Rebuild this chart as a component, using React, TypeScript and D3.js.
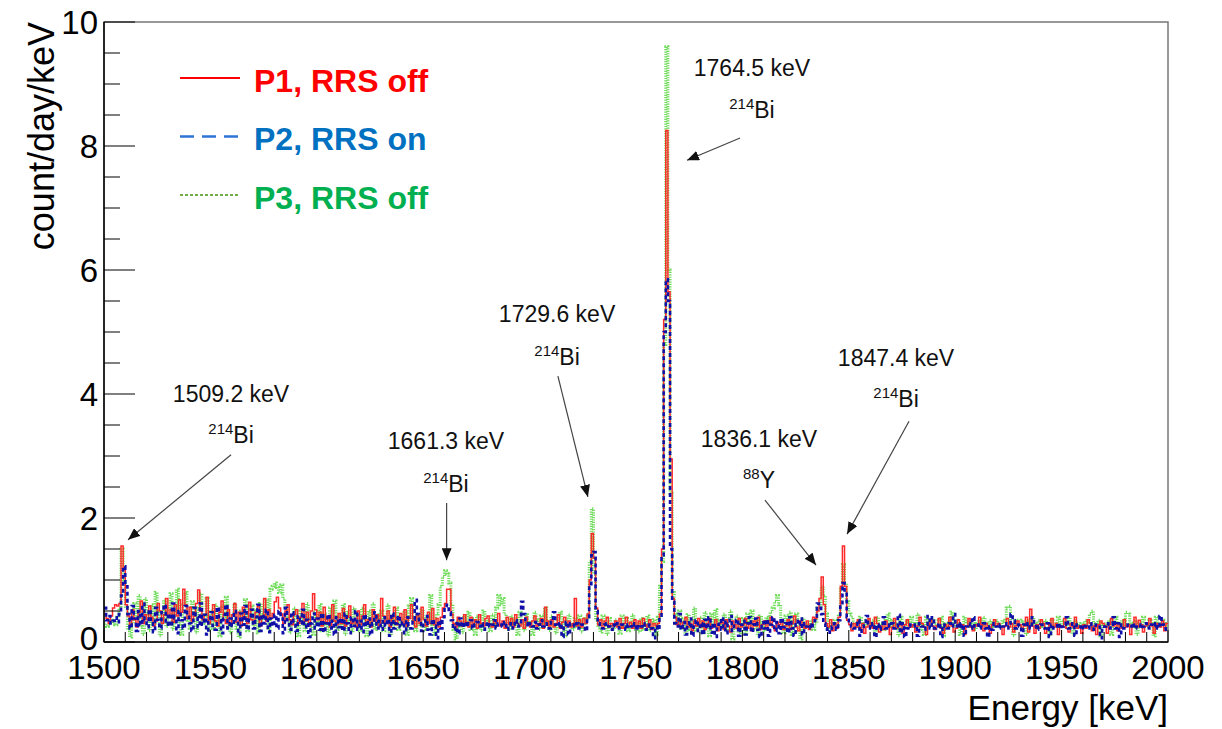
import React from "react";
import * as d3 from "d3";

// ---- data: 1 keV bins from 1500 keV, values in units of 0.01 count/day/keV ----
const BIN_START = 1500;
const BIN_WIDTH = 1;
const VALUE_UNIT = 0.01;

const p1RrsOff = [
  45,38,30,42,55,60,58,62,155,118, 60,42,28,52,36,24,48,66,30,44,
  36,58,40,26,34,62,50,30,44,70, 40,52,32,60,42,68,48,85,60,38,
  56,34,42,62,84,50,36,44,72,30, 38,60,34,26,48,66,36,30,52,28,
  44,62,32,48,26,56,40,30,64,36, 30,48,58,26,42,70,34,52,38,46,
  65,72,55,45,30,50,60,36,28,44, 52,30,40,62,34,48,26,50,78,52,
  36,48,26,56,32,42,24,60,34,28, 46,30,54,26,40,58,30,36,24,50,
  28,42,60,30,36,24,52,34,44,26, 70,42,30,50,24,38,56,28,36,46,
  30,52,26,38,60,34,24,44,30,56, 36,26,48,30,54,28,38,24,40,55,
  62,85,85,45,30,24,40,34,26,44, 32,24,40,28,36,22,44,30,26,38,
  42,28,24,36,30,46,26,34,22,40, 28,38,24,44,30,26,36,22,40,30,
  24,34,42,26,30,38,22,56,34,26, 36,24,30,44,22,32,40,26,34,24,
  30,70,26,36,24,38,30,45,100,175, 135,55,28,36,22,34,40,24,30,26,
  34,24,38,22,30,40,26,32,22,36, 26,34,22,38,28,24,36,20,30,26,
  30,45,150,520,825,565,295,70,40,28, 36,22,32,40,24,30,18,34,26,38,
  24,34,20,30,38,22,28,36,18,30, 32,20,36,26,16,34,28,22,38,24,
  28,38,22,30,18,34,26,40,20,28, 34,22,30,40,24,18,32,28,36,20,
  26,36,20,30,42,24,18,34,28,22, 34,20,28,40,38,50,70,105,60,30,
  24,36,18,30,22,40,90,155,90,35, 28,18,30,24,36,22,30,14,24,38,
  26,22,40,30,16,26,20,34,24,12, 24,38,22,26,30,14,28,36,26,24,
  28,16,26,40,30,24,12,28,36,26, 20,26,38,22,14,28,24,40,26,16,
  22,36,24,28,12,26,38,24,18,28, 26,40,28,18,30,26,14,28,36,26,
  30,24,12,26,38,24,30,16,26,34, 28,20,26,40,16,53,26,14,28,22,
  36,30,14,22,28,38,24,30,12,26, 24,38,22,16,30,24,40,22,26,14,
  28,22,36,30,18,26,12,28,34,30, 26,14,28,38,26,30,18,28,22,36,
  24,28,12,26,40,24,35,28,16,26, 28,38,26,14,30,26,24,34,18,30,
];

const p2RrsOn = [
  55,35,42,30,34,40,32,45,75,122, 90,45,22,58,38,18,50,28,62,35,
  24,52,30,16,55,36,22,48,60,28, 45,26,62,38,14,50,35,22,58,44,
  30,18,55,40,24,62,28,44,12,38, 48,26,20,56,35,14,44,60,22,38,
  26,50,35,12,46,28,58,20,38,52, 22,40,60,18,44,30,52,16,38,26,
  44,22,50,38,14,55,35,20,48,30, 18,42,30,52,24,36,8,30,46,22,
  38,20,46,16,30,44,22,34,12,40, 24,38,18,46,30,14,40,26,50,20,
  34,16,44,26,38,12,30,48,22,34, 20,40,26,36,10,46,22,30,42,24,
  32,14,40,26,22,36,68,45,30,18, 30,42,20,12,36,26,6,34,22,40,
  55,60,48,35,20,30,14,38,24,32, 25,30,35,22,28,32,25,30,20,28,
  32,25,28,35,22,30,28,25,32,20, 28,30,22,35,25,28,65,45,30,25,
  30,25,32,22,28,35,25,30,28,22, 35,48,28,25,30,8,28,32,12,30,
  28,25,30,22,28,25,18,40,90,140, 145,50,30,25,22,28,30,25,20,28,
  25,30,22,28,25,20,28,25,30,22, 28,22,25,30,20,25,28,22,6,25,
  20,40,140,500,585,550,150,65,30,25, 45,20,32,12,28,38,10,25,35,18,
  30,12,36,22,40,15,30,8,28,35, 20,38,14,30,42,18,26,36,10,28,
  34,12,30,40,16,28,38,20,8,32, 22,36,10,28,40,18,32,14,38,24,
  30,15,40,22,10,34,28,38,12,30, 25,28,22,30,35,62,55,45,30,20,
  22,15,25,30,20,35,60,95,80,40, 30,25,22,28,35,10,22,30,42,28,
  22,30,8,28,20,25,40,22,28,25, 30,22,25,44,15,30,8,22,28,25,
  25,28,10,30,25,20,28,42,22,40, 22,25,30,8,28,25,22,30,25,45,
  25,30,22,28,10,25,30,22,40,25, 28,22,25,30,22,8,25,20,30,25,
  22,28,25,30,22,25,45,35,22,28, 25,10,28,25,30,22,40,28,20,25,
  28,25,22,30,8,28,22,25,30,22, 25,28,40,22,25,30,10,28,25,20,
  28,25,22,30,25,20,28,25,6,22, 25,30,22,28,40,22,30,8,28,22,
  22,28,25,30,22,25,28,22,25,30, 25,22,28,25,30,22,42,28,22,20,
];

const p3RrsOff = [
  30,25,28,35,30,28,40,55,150,100, 55,20,8,30,62,40,75,25,12,70,
  45,18,60,30,80,50,10,38,68,25, 55,78,20,48,85,30,12,60,80,35,
  22,65,48,15,55,78,30,42,70,18, 50,20,60,35,10,58,40,72,25,15,
  45,62,22,8,50,35,68,18,42,58, 25,50,15,62,35,45,68,20,85,90,
  95,88,80,92,70,55,40,15,35,55, 25,10,50,35,18,62,40,25,12,48,
  32,60,18,45,28,10,55,35,66,20, 42,22,60,12,50,35,18,55,28,44,
  18,55,35,10,50,28,62,20,44,30, 50,18,38,60,10,42,26,55,20,36,
  28,48,12,58,70,35,18,42,26,52, 40,20,35,75,28,12,45,60,90,105,
  115,110,95,60,20,5,35,25,15,42, 28,48,20,38,12,42,30,18,50,28,
  36,18,44,25,55,75,60,70,45,22, 20,42,28,38,12,48,30,18,44,32,
  26,12,48,36,20,42,28,55,32,18, 42,26,14,38,48,30,10,36,44,28,
  20,38,26,42,16,30,38,45,130,215, 110,35,24,16,42,30,12,38,26,20,
  36,28,14,42,26,38,18,30,44,20, 30,16,38,20,28,42,18,30,36,12,
  40,90,130,480,960,600,240,80,45,30, 50,22,38,12,44,20,35,55,18,25,
  40,15,48,30,10,45,28,52,20,35, 25,45,18,38,50,5,30,42,15,30,
  38,12,45,28,50,20,35,10,42,30, 18,40,28,48,55,65,75,60,30,15,
  42,20,48,12,35,45,18,5,38,22, 30,25,35,20,30,55,55,90,75,45,
  25,20,30,35,25,45,85,125,95,65, 45,40,30,25,35,40,30,25,35,30,
  25,35,12,40,25,30,20,35,45,25, 35,25,30,10,40,30,25,35,30,40,
  25,30,45,20,30,12,40,30,25,35, 30,25,35,40,10,30,25,35,48,25,
  35,30,12,25,40,30,35,25,30,20, 30,35,25,40,30,25,35,30,25,35,
  30,25,35,30,55,58,30,10,35,25, 25,35,30,12,35,25,40,30,25,35,
  30,25,35,30,10,35,25,30,40,25, 35,30,25,40,30,12,35,30,25,30,
  25,35,30,45,50,25,30,35,10,30, 30,25,35,12,30,40,25,30,35,25,
  48,45,30,25,35,12,30,25,40,30, 25,35,30,10,40,30,25,35,30,25,
];

const xTickMajor = [1500, 1550, 1600, 1650, 1700, 1750, 1800, 1850, 1900, 1950, 2000];
const yTickMajor = [0, 2, 4, 6, 8, 10];

const seriesNames = ["P1, RRS off", "P2, RRS on", "P3, RRS off"];

// annotations: text anchor and arrow in data coordinates (keV, count/day/keV)
const annotations = [
  { energy: "1509.2 keV", iso: "214", el: "Bi", tx: 1559.7, ty1: 3.87, ty2: 3.21, ax1: 1559.7, ay1: 3.02, ax2: 1511.3, ay2: 1.65 },
  { energy: "1661.3 keV", iso: "214", el: "Bi", tx: 1660.7, ty1: 3.11, ty2: 2.42, ax1: 1661.0, ay1: 2.24, ax2: 1661.0, ay2: 1.32 },
  { energy: "1729.6 keV", iso: "214", el: "Bi", tx: 1712.9, ty1: 5.16, ty2: 4.47, ax1: 1713.3, ay1: 4.29, ax2: 1727.4, ay2: 2.34 },
  { energy: "1764.5 keV", iso: "214", el: "Bi", tx: 1804.5, ty1: 9.13, ty2: 8.45, ax1: 1798.9, ay1: 8.13, ax2: 1774.0, ay2: 7.77 },
  { energy: "1836.1 keV", iso: "88", el: "Y", tx: 1807.8, ty1: 3.15, ty2: 2.48, ax1: 1810.6, ay1: 2.29, ax2: 1834.6, ay2: 1.24 },
  { energy: "1847.4 keV", iso: "214", el: "Bi", tx: 1872.2, ty1: 4.45, ty2: 3.79, ax1: 1878.3, ay1: 3.56, ax2: 1849.2, ay2: 1.74 },
];

const W = 1222;
const H = 729;
const PL = 104, PR = 1168, PT = 22, PB = 642;
const FONT = "'Liberation Sans', Arial, Helvetica, sans-serif";

export default function App() {
  const x = d3.scaleLinear().domain([1500, 2000]).range([PL, PR]);
  const y = d3.scaleLinear().domain([0, 10]).range([PB, PT]);

  const step = d3
    .line<[number, number]>()
    .x((d) => x(d[0]))
    .y((d) => y(d[1]))
    .curve(d3.curveStepAfter);

  const toPts = (vals: number[]): [number, number][] => {
    const pts: [number, number][] = vals.map((v, i) => [BIN_START + i * BIN_WIDTH, v * VALUE_UNIT]);
    pts.push([BIN_START + vals.length * BIN_WIDTH, vals[vals.length - 1] * VALUE_UNIT]);
    return pts;
  };

  const xMinor = d3.range(1500, 2001, 10).filter((v) => v % 50 !== 0);
  const yMinor = d3.range(0, 10.01, 0.5).filter((v) => Math.abs(v % 2) > 1e-6);

  const legendRows = [
    { name: seriesNames[0], color: "#ff0000", line: "#ff0000", dash: "", width: 2 },
    { name: seriesNames[1], color: "#0070c0", line: "#2e75d6", dash: "14 8", width: 2.5 },
    { name: seriesNames[2], color: "#00b050", line: "#70ad47", dash: "3 2", width: 2 },
  ];

  return (
    <svg
      width={W}
      height={H}
      style={{ position: "absolute", left: 0, top: 0, background: "#fff" }}
      fontFamily={FONT}
    >
      <defs>
        <clipPath id="plotClip">
          <rect x={PL} y={PT} width={PR - PL} height={PB - PT} />
        </clipPath>
        <marker id="arrowHead" viewBox="0 0 12 10" refX={12} refY={5} markerWidth={12} markerHeight={10} markerUnits="userSpaceOnUse" orient="auto">
          <path d="M0,0 L12,5 L0,10 z" fill="#111" />
        </marker>
      </defs>

      {/* frame */}
      <rect x={PL} y={PT} width={PR - PL} height={PB - PT} fill="none" stroke="#777" strokeWidth={1.5} />

      {/* histograms */}
      <g clipPath="url(#plotClip)" fill="none">
        <path d={step(toPts(p3RrsOff)) || ""} stroke="#6fdc5a" strokeWidth={3} strokeDasharray="1.2 1.2" />
        <path d={step(toPts(p1RrsOff)) || ""} stroke="#ff2a2a" strokeWidth={1.5} />
        <path d={step(toPts(p2RrsOn)) || ""} stroke="#1010a8" strokeWidth={2.6} strokeDasharray="4 3" />
      </g>

      {/* axes */}
      <line x1={PL} x2={PR} y1={PB} y2={PB} stroke="#000" strokeWidth={1.5} />
      <line x1={PL} x2={PL} y1={PT} y2={PB} stroke="#000" strokeWidth={1.5} />
      {xTickMajor.map((t) => (
        <g key={"xt" + t}>
          <line x1={x(t)} x2={x(t)} y1={PB} y2={PB - 12} stroke="#000" strokeWidth={1} />
          <text x={x(t)} y={679} textAnchor="middle" fontSize={33} fill="#000">
            {t}
          </text>
        </g>
      ))}
      {xMinor.map((t) => (
        <line key={"xm" + t} x1={x(t)} x2={x(t)} y1={PB} y2={PB - 10} stroke="#000" strokeWidth={1} />
      ))}
      {yTickMajor.map((t) => (
        <g key={"yt" + t}>
          <line x1={PL} x2={PL + 31} y1={y(t)} y2={y(t)} stroke="#000" strokeWidth={1} />
          <text x={98} y={y(t)} dy={t === 0 ? "0.25em" : "0.36em"} textAnchor="end" fontSize={33} fill="#000">
            {t}
          </text>
        </g>
      ))}
      {yMinor.map((t) => (
        <line key={"ym" + t} x1={PL} x2={PL + 16} y1={y(t)} y2={y(t)} stroke="#000" strokeWidth={1} />
      ))}

      <text x={PR} y={720} textAnchor="end" fontSize={35} fill="#000">
        Energy [keV]
      </text>
      <text transform={`translate(54,${PT}) rotate(-90)`} textAnchor="end" fontSize={36} fill="#000">
        count/day/keV
      </text>

      {/* legend */}
      {legendRows.map((r, i) => {
        const ly = 78 + i * 58.5;
        return (
          <g key={"lg" + i}>
            <line x1={180} x2={240} y1={ly} y2={ly} stroke={r.line} strokeWidth={r.width} strokeDasharray={r.dash} />
            <text x={254} y={ly + 13.5} fontSize={32} fontWeight="bold" fill={r.color}>
              {r.name}
            </text>
          </g>
        );
      })}

      {/* annotations */}
      {annotations.map((a, i) => (
        <g key={"an" + i}>
          <text x={x(a.tx)} y={y(a.ty1)} textAnchor="middle" fontSize={23} fill="#111">
            {a.energy}
          </text>
          <text x={x(a.tx)} y={y(a.ty2)} textAnchor="middle" fill="#111">
            <tspan fontSize={15} dy={-9}>{a.iso}</tspan>
            <tspan fontSize={23} dy={9}>{a.el}</tspan>
          </text>
          <line
            x1={x(a.ax1)}
            y1={y(a.ay1)}
            x2={x(a.ax2)}
            y2={y(a.ay2)}
            stroke="#444"
            strokeWidth={1.2}
            markerEnd="url(#arrowHead)"
          />
        </g>
      ))}
    </svg>
  );
}
